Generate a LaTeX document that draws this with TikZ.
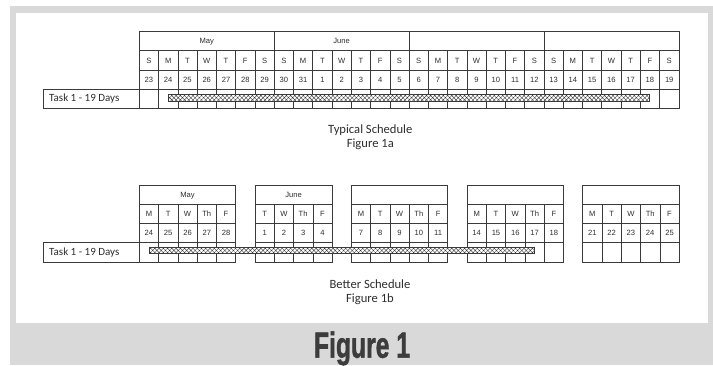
\documentclass[tikz,border=0pt]{standalone}
\usepackage{graphicx}
\usepackage{fontspec}
\setmainfont{Carlito}
\newfontfamily\tabfont{Liberation Sans}
\newfontfamily\bigfont[BoldFeatures={FakeBold=1.6}]{Liberation Sans}
\usetikzlibrary{patterns.meta}
\definecolor{framegray}{HTML}{D9D9D9}
\definecolor{gridline}{HTML}{3A3A3A}
\definecolor{txt}{HTML}{2E2E2E}
\definecolor{bigtxt}{HTML}{3C3C3C}
\begin{document}
\begin{tikzpicture}[x=1pt,y=-1pt,
  cell/.style={draw=gridline,line width=0.6pt},
  daytxt/.style={font=\tabfont\fontsize{7.6}{9}\selectfont,text=txt,inner sep=0pt,text height=5.5pt,text depth=0pt},
  labtxt/.style={font=\fontsize{11}{13}\selectfont,text=txt,inner sep=0pt},
  titletxt/.style={font=\fontsize{12.6}{14}\selectfont,text=txt,inner sep=0pt,anchor=base},
  barbox/.style={draw=gridline,line width=0.5pt,preaction={fill=white},
     pattern={Hatch[angle=45,distance=3pt,line width=0.4pt]},pattern color=gridline}]
\useasboundingbox (0,0) rectangle (713,365);
% frame
\fill[framegray] (10,5.7) rectangle (713,365);
\fill[white] (16,12.7) rectangle (708,322.7);
\def\xa{139.3}
\def\w{19.27}
% ---------------- Top table ----------------
\foreach \m/\lab in {0/May,1/June,2/{},3/{}}{
  \draw[cell] ({\xa+7*\m*\w},31) rectangle ({\xa+7*(\m+1)*\w},50.7);
  \node[daytxt] (tm\m) at ({\xa+(7*\m+3.5)*\w},40.85) {\lab};
}
\foreach \d/\n [count=\k from 0] in {S/23,M/24,T/25,W/26,T/27,F/28,S/29,S/30,M/31,T/1,W/2,T/3,F/4,S/5,S/6,M/7,T/8,W/9,T/10,F/11,S/12,S/13,M/14,T/15,W/16,T/17,F/18,S/19}{
  \draw[cell] ({\xa+\k*\w},50.7) rectangle ({\xa+(\k+1)*\w},70);
  \draw[cell] ({\xa+\k*\w},70) rectangle ({\xa+(\k+1)*\w},89);
  \draw[cell] ({\xa+\k*\w},89) rectangle ({\xa+(\k+1)*\w},108.3);
  \node[daytxt] (tl\k) at ({\xa+(\k+0.5)*\w},60.35) {\d};
  \node[daytxt] (tn\k) at ({\xa+(\k+0.5)*\w},79.5) {\n};
}
\draw[cell] (43.3,89) rectangle (\xa,108.3);
\node[labtxt,anchor=west] (task1) at (49,98.65) {Task 1 - 19 Days};
\node[barbox,anchor=north west,minimum width=480.7pt,minimum height=6.7pt,inner sep=0pt] (bar1) at (168.3,94.3) {};
\node[titletxt] (title1) at (370.3,133.3) {Typical Schedule};
\node[titletxt] (fig1a) at (370.3,147.3) {Figure 1a};
% ---------------- Bottom table ----------------
\def\w{19.28}
\foreach \a/\b/\lab in {0/5/May,6/10/June,11/16/{},17/22/{},23/28/{}}{
  \draw[cell] ({\xa+\a*\w},185) rectangle ({\xa+\b*\w},204.3);
  \node[daytxt] (bm\a) at ({\xa+(\a+\b)/2*\w},194.65) {\lab};
}
\foreach \k/\d/\n in {0/M/24,1/T/25,2/W/26,3/Th/27,4/F/28,6/T/1,7/W/2,8/Th/3,9/F/4,11/M/7,12/T/8,13/W/9,14/Th/10,15/F/11,17/M/14,18/T/15,19/W/16,20/Th/17,21/F/18,23/M/21,24/T/22,25/W/23,26/Th/24,27/F/25}{
  \draw[cell] ({\xa+\k*\w},204.3) rectangle ({\xa+(\k+1)*\w},223.3);
  \draw[cell] ({\xa+\k*\w},223.3) rectangle ({\xa+(\k+1)*\w},242.7);
  \draw[cell] ({\xa+\k*\w},242.7) rectangle ({\xa+(\k+1)*\w},262);
  \node[daytxt] (bl\k) at ({\xa+(\k+0.5)*\w},213.8) {\d};
  \node[daytxt] (bn\k) at ({\xa+(\k+0.5)*\w},233) {\n};
}
\draw[cell] (43.3,242.7) rectangle (\xa,262);
\node[labtxt,anchor=west] (task2) at (49,252.35) {Task 1 - 19 Days};
\node[barbox,anchor=north west,minimum width=385.3pt,minimum height=6pt,inner sep=0pt] (bar2) at (149,247.4) {};
\node[titletxt] (title2) at (370,288.1) {Better Schedule};
\node[titletxt] (fig1b) at (370,302) {Figure 1b};
% ---------------- caption ----------------
\node[anchor=base,inner sep=0pt,text=bigtxt,font=\bigfont\bfseries\fontsize{36.3}{38}\selectfont] (fig1) at (362,357.7) {\scalebox{0.68}[1]{Figure 1}};
\end{tikzpicture}
\end{document}
